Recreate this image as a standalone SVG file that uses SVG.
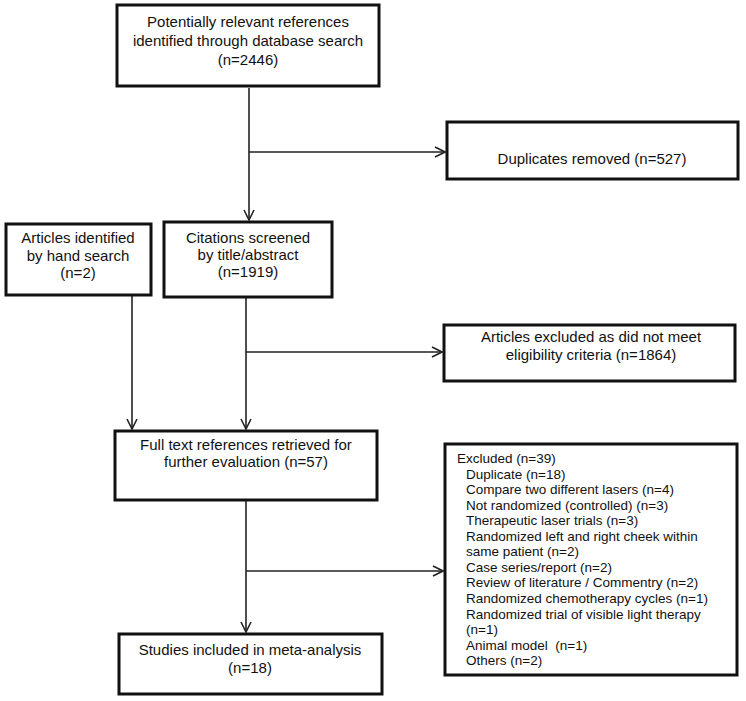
<svg xmlns="http://www.w3.org/2000/svg" width="746" height="701" viewBox="0 0 746 701">
<style>
.box{fill:#fff;stroke:#111;stroke-width:3}
.t{font-family:"Liberation Sans",Arial,sans-serif;font-size:15px;fill:#111;text-anchor:middle}
.l{font-family:"Liberation Sans",Arial,sans-serif;font-size:13.5px;fill:#111}
.c{fill:none;stroke:#222;stroke-width:1.6}
</style>
<defs>
<marker id="arr" viewBox="0 0 12 12" refX="11" refY="6" markerWidth="12" markerHeight="12" markerUnits="userSpaceOnUse" orient="auto">
<path d="M1,1 L11,6 L1,11" fill="none" stroke="#222" stroke-width="1.6"/>
</marker>
</defs>
<rect width="746" height="701" fill="#fff"/>
<g id="connectors">
<line class="c" x1="249" y1="88" x2="249" y2="220" marker-end="url(#arr)"/>
<line class="c" x1="249" y1="152" x2="445" y2="152" marker-end="url(#arr)"/>
<line class="c" x1="132" y1="296" x2="132" y2="429" marker-end="url(#arr)"/>
<line class="c" x1="246" y1="298" x2="246" y2="429" marker-end="url(#arr)"/>
<line class="c" x1="246" y1="352" x2="442" y2="352" marker-end="url(#arr)"/>
<line class="c" x1="246" y1="501" x2="246" y2="632" marker-end="url(#arr)"/>
<line class="c" x1="246" y1="571" x2="443" y2="571" marker-end="url(#arr)"/>
</g>
<g id="identified">
<rect class="box" x="117" y="5" width="262" height="81"/>
<text class="t" x="248" y="27">Potentially relevant references</text>
<text class="t" x="248" y="46">identified through database search</text>
<text class="t" x="248" y="65">(n=2446)</text>
</g>
<g id="duplicates">
<rect class="box" x="447" y="122" width="291" height="57"/>
<text class="t" x="592" y="164">Duplicates removed (n=527)</text>
</g>
<g id="handsearch">
<rect class="box" x="6" y="224" width="145" height="71"/>
<text class="t" x="78" y="243">Articles identified</text>
<text class="t" x="78" y="261">by hand search</text>
<text class="t" x="78" y="278">(n=2)</text>
</g>
<g id="screened">
<rect class="box" x="164" y="222" width="168" height="75"/>
<text class="t" x="248" y="243">Citations screened</text>
<text class="t" x="248" y="260">by title/abstract</text>
<text class="t" x="248" y="277">(n=1919)</text>
</g>
<g id="excluded1">
<rect class="box" x="444" y="325" width="291" height="56"/>
<text class="t" x="591" y="342">Articles excluded as did not meet</text>
<text class="t" x="591" y="360">eligibility criteria (n=1864)</text>
</g>
<g id="fulltext">
<rect class="box" x="115" y="431" width="262" height="69"/>
<text class="t" x="246" y="450">Full text references retrieved for</text>
<text class="t" x="246" y="467">further evaluation (n=57)</text>
</g>
<g id="excluded2">
<rect class="box" x="445" y="444" width="292" height="231"/>
<text class="l" x="457" y="463">Excluded (n=39)</text>
<text class="l" x="466" y="478.5">Duplicate (n=18)</text>
<text class="l" x="466" y="494">Compare two different lasers (n=4)</text>
<text class="l" x="466" y="509.6">Not randomized (controlled) (n=3)</text>
<text class="l" x="466" y="525.2">Therapeutic laser trials (n=3)</text>
<text class="l" x="466" y="540.7">Randomized left and right cheek within</text>
<text class="l" x="466" y="556.3">same patient (n=2)</text>
<text class="l" x="466" y="571.8">Case series/report (n=2)</text>
<text class="l" x="466" y="587.4">Review of literature / Commentry (n=2)</text>
<text class="l" x="466" y="603">Randomized chemotherapy cycles (n=1)</text>
<text class="l" x="466" y="618.5">Randomized trial of visible light therapy</text>
<text class="l" x="466" y="634">(n=1)</text>
<text class="l" x="466" y="649.6" xml:space="preserve">Animal model  (n=1)</text>
<text class="l" x="466" y="665.2">Others (n=2)</text>
</g>
<g id="included">
<rect class="box" x="119" y="634" width="263" height="60"/>
<text class="t" x="250" y="655">Studies included in meta-analysis</text>
<text class="t" x="250" y="673">(n=18)</text>
</g>
</svg>
